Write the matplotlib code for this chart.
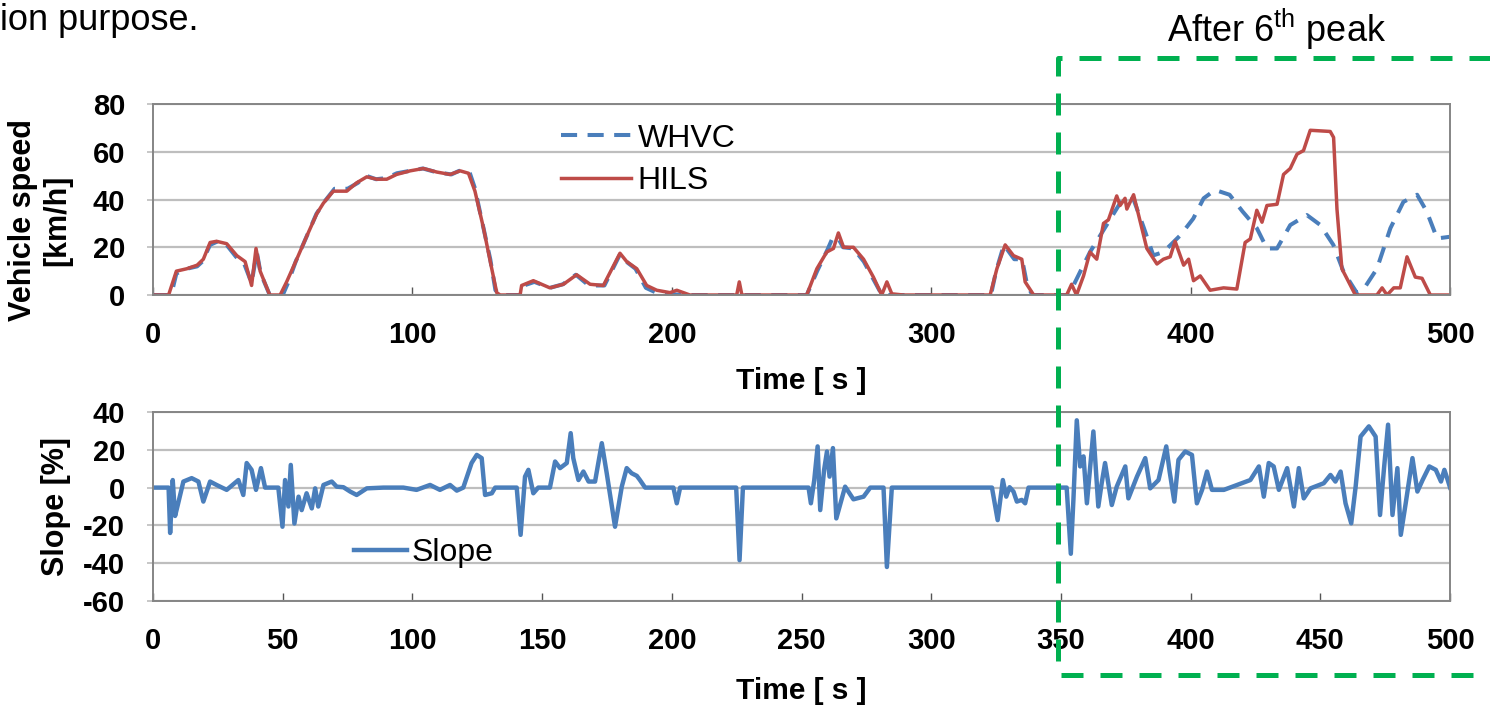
import matplotlib.pyplot as plt
from matplotlib.lines import Line2D
import numpy as np

plt.rcParams['font.family'] = 'Liberation Sans'
plt.rcParams['mathtext.fontset'] = 'custom'
plt.rcParams['mathtext.rm'] = 'Liberation Sans'
plt.rcParams['axes.unicode_minus'] = False

# Vehicle speed [km/h] -- HILS run
hils_t = [0, 6, 9, 13, 17, 19.4, 22, 24.5, 28.4, 32.3, 35.5, 38, 39.7, 41.3, 45, 49,
          51.5, 55.4, 59.2, 63.1, 65.7, 69.5, 74.7, 78.5, 82.4, 86.2, 90.1, 93.9, 99.1,
          104.2, 109.4, 114.5, 118.4, 121.6, 124.1, 127.4, 130, 132.5, 133.8, 141.5, 142.1,
          146.6, 153, 158.2, 163.3, 168.5, 173.6, 180, 182.6, 186.5, 190.3, 194.2, 199.3,
          201.9, 207, 225, 226, 227, 252, 255.9, 259.7, 262.3, 264.2, 266.2, 270, 273.9,
          277.7, 280.9, 282.9, 284.8, 289.3, 322.7, 325.3, 328.5, 331.7, 334.9, 336.2,
          339.5, 352.2, 354.1, 356, 358.7, 361.2, 363.8, 366.4, 368.3, 371.5, 372.8, 374.7,
          375.4, 378, 380.5, 383.1, 387, 389.5, 392.1, 394, 397.3, 399.2, 401.1, 403.7,
          407.5, 412.7, 417.8, 421, 423, 425.5, 427.5, 429.4, 433.3, 435.8, 438.4, 441,
          443.5, 446.1, 453.8, 455.1, 456.4, 458.3, 460.9, 463.5, 471.8, 473.8, 475.7,
          478.3, 480.8, 483.4, 486.6, 489.2, 492.4, 500]
hils_v = [0, 0, 10, 11, 12.5, 15, 22, 22.5, 21.5, 16.5, 14, 4, 19.5, 10, 0, 0,
          5.5, 15, 24.5, 34, 38.5, 43.5, 43.5, 47, 49.5, 48.5, 48.5, 50.5, 52,
          53, 51.5, 50.5, 52, 51, 43.5, 28, 14, 1, 0, 0, 4,
          6, 3, 4.5, 8.5, 4.5, 4, 17.5, 14, 11, 4, 2, 1,
          2, 0, 0, 5.5, 0, 0, 11, 18, 19.5, 26, 20, 20, 15,
          7.5, 0, 5.5, 0.5, 0, 0, 11, 21, 16.5, 15, 5.5,
          0, 0, 4.5, 0, 8, 18, 15, 30, 31.5, 41.5, 37.5, 40.5,
          36, 42, 31, 19.5, 13, 15, 16, 22.5, 12.5, 15, 6, 8,
          2, 3, 2.5, 22, 23.5, 35.5, 30.5, 37.5, 38, 50.5, 53, 59,
          60.5, 69, 68.5, 66, 36, 11, 5.5, 0, 0, 3, 0,
          3, 3, 16, 7.5, 7, 0, 0]

# Vehicle speed [km/h] -- WHVC target
whvc_t = [0, 7, 9, 13, 17, 19, 22, 25, 28, 32, 35, 38, 40, 41.5, 45, 50,
          52, 55, 59, 63, 66, 70, 75, 79, 82, 86, 90, 94, 99, 104, 109, 115, 118, 122,
          124, 127, 130, 132, 134, 142, 143, 147, 153, 158, 163, 168, 174, 180, 183, 186,
          190, 194, 199, 204, 252, 256, 260, 262, 264, 266, 270, 274, 278, 281, 323, 325,
          328, 332, 335, 337, 339, 353, 357.3, 361.2, 367.6, 374, 378, 381.8, 385.6, 389.5,
          396, 401, 405, 409.4, 415, 420, 425.5, 429.4, 433.3, 438.4, 444.8, 450, 455,
          459, 464, 466.7, 471.8, 477, 482, 487.3, 491, 495, 500]
whvc_v = [0, 0, 9, 11, 12, 14, 21, 22.5, 21.5, 16, 13.5, 5, 18, 9, 0, 0,
          5, 14, 24, 34, 39, 44.5, 44.5, 47, 50, 48.5, 49, 51, 52, 53, 51.5, 50.5, 52, 51.5,
          45, 30, 15, 2, 0, 0, 4, 5.5, 3, 4.5, 8.5, 4, 4, 17, 13.5, 11,
          3, 1, 0.5, 0, 0, 10, 19, 24, 24, 20, 19.5, 14, 6, 0, 0, 10,
          21, 15, 15, 4, 0, 0, 9.5, 18, 29.3, 40.6, 40, 28.6, 16.6, 18,
          25, 32, 40.5, 44, 42, 35, 28, 19.5, 19.5, 29.3, 33.5, 29.3, 21,
          9.6, 1, 2.5, 11, 28, 39, 42, 35, 23.7, 24.4]

# Road slope [%]
slope_t = [0, 6, 6.6, 7.6, 8.5, 9.4, 11.7, 14.9, 17.5, 19.4, 22, 24.5, 28.4, 32.9, 34.8,
           36.1, 38, 39.7, 41.6, 43.2, 48.3, 49.9, 50.9, 52.2, 53.1, 54.5, 56.1, 57.3, 59.2,
           61.2, 62.5, 63.7, 65.7, 68.9, 70.8, 73.4, 76, 78.5, 82.4, 88.8, 96.5, 101.6,
           106.8, 110.6, 114.5, 117.1, 119.6, 122.8, 124.8, 126.7, 128, 130.6, 131.9, 140.2,
           141.7, 143.4, 144.7, 146.6, 148.5, 153, 155, 156.9, 159.5, 161, 162, 164, 165.9,
           167.9, 170.4, 173, 174.9, 178.1, 180.7, 182.6, 184.5, 186.5, 187.7, 189.7, 200.6,
           201.9, 203.2, 224.8, 226.1, 227.4, 252.7, 253.6, 254.9, 256.2, 257.2, 258.7,
           259.8, 260.8, 262.1, 263.4, 266.8, 270, 273.9, 276.5, 281.6, 282.9, 284.8, 323.4,
           325.6, 327.6, 328.9, 330.2, 331.7, 333, 334.9, 336.2, 337.5, 352.2, 353.8, 354.8,
           356.1, 357.4, 358.7, 360, 362.5, 364.4, 365.7, 367, 369.6, 371.5, 374.8, 376,
           379.3, 382.5, 384.4, 387.6, 390.6, 391.9, 393.7, 395.3, 397.9, 400.5, 402.4,
           404.4, 406.3, 408.2, 412.8, 417.9, 423, 426.3, 428.2, 430.1, 432, 434, 437.2,
           439.8, 441.7, 443.6, 446.2, 451.3, 453.9, 455.8, 457.8, 459.7, 461.9, 463.6,
           465.5, 468.7, 471.3, 473, 474.6, 476.1, 477.8, 479.7, 481, 482.9, 485.5, 487.4,
           489.4, 492, 494.5, 496.5, 497.8, 499.1, 500]
slope_v = [0, 0, -24, 4, -15, -10, 3.2, 5, 3.2, -7.4, 3.2, 1.4, -1.2, 4, -3.9,
           13, 9.4, -1.2, 10.3, 0, 0, -20.7, 4, -10, 12, -19, -4.8, -11.9, -3,
           -11, -0.4, -10, 1.4, 3.2, 0.5, 0.2, -2.1, -3.9, -0.4, 0, 0, -1.2,
           1.4, -1.2, 1.4, -1.6, 0, 13, 17.3, 15.6, -3.9, -3, 0, 0,
           -25, 5.8, 9.4, -3, 0, 0, 13.8, 10.3, 13, 28.8, 15.6, 4, 8.5,
           3.2, 3.2, 23.5, 7.6, -20.7, 0.5, 10.3, 7.6, 6.2, 4, 0, 0,
           -8.3, 0, 0, -38.4, 0, 0, -8.3, 4, 21.8, -11.9, 9.4,
           19.1, 5.8, 20.9, -16.3, 0.5, -6.2, -4.8, 0, 0, -42, 0, 0,
           -17.2, 4, -4.8, 0.2, -2.1, -7.4, -6.5, -8.3, 0, 0, -35, -6.5,
           35.6, 11.2, 16.5, -8.3, 29.7, -10, 2.3, 13, -9.2, 0.5, 11.2, -5.7,
           5.8, 15.6, -0.4, 4, 21.8, 8.5, -7.4, 14.7, 19.1, 17.3, -8.3,
           -1.2, 8.5, -1.2, -1.2, 1.4, 4, 11.2, -4.8, 13, 11.2, -1.2, 10.3,
           -10, 10.3, -5.7, -0.4, 2.3, 6.7, 3.2, 8.5, -8.3, -18.9, 0.5,
           27, 32.4, 27, -14.5, 11.2, 33.3, -14.5, 10.3, -25, -8.3, 15.6, -2.1,
           4, 11.2, 9.4, 3.2, 9.4, 4, 0]

speed_xticks = np.arange(0, 501, 100)
speed_yticks = np.arange(0, 81, 20)
slope_xticks = np.arange(0, 501, 50)
slope_yticks = np.arange(-60, 41, 20)

BLUE = '#4A7EBB'
RED = '#BE4B48'
GREEN = '#00B050'
GRID = '#BEBEBE'
FRAME = '#858585'

fig = plt.figure(figsize=(14.9, 7.08), dpi=100)
ax1 = fig.add_axes([0.1027, 0.5833, 0.8705, 0.2698])
ax2 = fig.add_axes([0.1027, 0.1511, 0.8705, 0.267])


def style_axes(ax, xticks, yticks):
    ax.set_xticks(xticks)
    ax.set_yticks(yticks)
    ax.set_xlim(xticks[0], xticks[-1])
    ax.set_ylim(yticks[0], yticks[-1])
    ax.set_axisbelow(True)
    ax.yaxis.grid(True, color=GRID, lw=1.6)
    for sp in ax.spines.values():
        sp.set_color(FRAME)
        sp.set_linewidth(1.4)
    ax.tick_params(axis='x', direction='in', length=6, width=1, color='#555555',
                   pad=19, labelsize=21)
    ax.tick_params(axis='y', direction='out', length=4, width=1.2, color=GRID,
                   pad=16, labelsize=21)
    for lab in ax.get_xticklabels() + ax.get_yticklabels():
        lab.set_fontweight('bold')
    ax.set_xlabel('Time [ s ]', fontsize=21.5, fontweight='bold', va='top')


# speed traces
style_axes(ax1, speed_xticks, speed_yticks)
ax1.plot(whvc_t, whvc_v, color=BLUE, lw=2.9, dashes=(4, 2.6), label='WHVC',
         dash_capstyle='butt')
ax1.plot(hils_t, hils_v, color=RED, lw=2.5, label='HILS', solid_joinstyle='round')
ax1.xaxis.set_label_coords(0.5, -0.375)
ax1.text(-0.087, 0.393, 'Vehicle speed\n[km/h]', transform=ax1.transAxes, rotation=90,
         ha='center', va='center', multialignment='center', fontsize=22,
         fontweight='bold', linespacing=1.2)
ax1.legend(loc='center left', bbox_to_anchor=(0.3146, 0.707), frameon=False,
           fontsize=23, handlelength=2.2, handletextpad=0.2, labelspacing=0.4,
           borderpad=0, borderaxespad=0)

# slope trace
style_axes(ax2, slope_xticks, slope_yticks)
ax2.plot(slope_t, slope_v, color=BLUE, lw=3.2, label='Slope', solid_joinstyle='round')
ax2.xaxis.set_label_coords(0.5, -0.40)
ax2.text(-0.0748, 0.5, 'Slope [%]', transform=ax2.transAxes, rotation=90,
         ha='center', va='center', fontsize=22, fontweight='bold')
ax2.legend(loc='center left', bbox_to_anchor=(0.155, 0.254), frameon=False,
           fontsize=23, handlelength=1.65, handletextpad=0.15,
           borderpad=0, borderaxespad=0)

# dashed box marking the section after the 6th peak
box_top, box_bottom, box_left = 1 - 58 / 708, 1 - 675 / 708, 1058 / 1490
fig.add_artist(Line2D([1.05, box_left, box_left, 1.05],
                      [box_top, box_top, box_bottom, box_bottom],
                      transform=fig.transFigure, color=GREEN, lw=3.6,
                      dashes=(4.4, 3.4), clip_on=False, zorder=10))

fig.text(0.0, 0.958, 'ion purpose.', fontsize=26, ha='left', va='baseline')
fig.text(1167 / 1490, 1 - 42 / 708, r'After 6$^{\mathrm{th}}$ peak', fontsize=26,
         ha='left', va='baseline')

fig.savefig('out.png', dpi=100)
